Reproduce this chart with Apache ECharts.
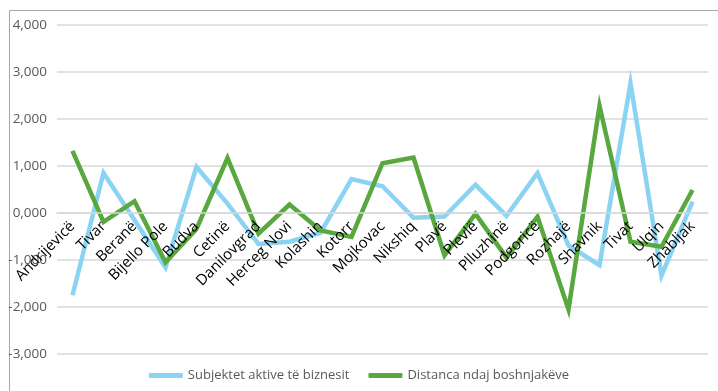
<!DOCTYPE html>
<html>
<head>
<meta charset="UTF-8">
<title>chart</title>
<script type="text/javascript" src="https://cdn.jsdelivr.net/npm/echarts@6/dist/echarts.min.js"></script>
<style>
  html, body { margin: 0; padding: 0; background: #fff; }
  #container { width: 718px; height: 391px; }
</style>
</head>
<body>
<div id="container"></div>
<script type="text/javascript">
    // kategorite (komunat)
    var categories = ['Andrijevicë', 'Tivar', 'Beranë', 'Bijello Pole', 'Budva', 'Cetinë', 'Danilovgrad',
        'Herceg Novi', 'Kolashin', 'Kotorr', 'Mojkovac', 'Nikshiq', 'Plavë', 'Plevlë', 'Plluzhinë',
        'Podgoricë', 'Rozhajë', 'Shavnik', 'Tivat', 'Ulqin', 'Zhabljak'];

    var subjektetAktive = [-1750, 850, -150, -1160, 980, 200, -660, -610, -420, 720, 570, -100, -75, 600,
        -60, 850, -690, -1110, 2760, -1330, 240];

    var distancaBoshnjakeve = [1320, -190, 250, -1050, -340, 1170, -440, 180, -370, -510, 1060, 1180, -900,
        -20, -950, -80, -2050, 2280, -610, -720, 490];

    var seriesNames = ['Subjektet aktive të biznesit', 'Distanca ndaj boshnjakëve'];

    var yMin = -3000, yMax = 4000, yStep = 1000;

    var font = '"Open Sans", "Noto Sans", sans-serif';

    var gridTop = 25, gridBottom = 37, chartH = 391;
    // ose x kalon ne vleren 0 te boshtit y
    var zeroOffset = -(chartH - gridTop - gridBottom) * (0 - yMin) / (yMax - yMin);

    var dom = document.getElementById('container');
    var myChart = echarts.init(dom);

    var option = {
        animation: false,
        textStyle: { fontFamily: font },
        graphic: [{
            type: 'rect',
            left: 7, top: 8,
            shape: { width: 730, height: 400 },
            style: { fill: 'none', stroke: '#a6a6a6', lineWidth: 1 },
            silent: true
        }],
        grid: { left: 57, right: 10, top: gridTop, bottom: gridBottom, containLabel: false, outerBoundsMode: 'none' },
        legend: {
            bottom: 4,
            left: 'center',
            icon: 'roundRect',
            itemWidth: 34,
            itemHeight: 5,
            itemGap: 19,
            textStyle: { color: '#595959', fontSize: 13, fontFamily: font },
            data: seriesNames
        },
        xAxis: {
            type: 'category',
            data: categories,
            boundaryGap: true,
            offset: zeroOffset,
            z: 10,
            axisLine: { show: true, onZero: false, lineStyle: { color: '#d9d9d9', width: 1.5 } },
            axisTick: { show: false },
            axisLabel: {
                rotate: 45,
                interval: 0,
                margin: 11,
                color: '#000',
                fontSize: 15,
                fontFamily: font
            }
        },
        yAxis: {
            type: 'value',
            min: yMin,
            max: yMax,
            interval: yStep,
            axisLine: { show: false },
            axisTick: { show: false },
            splitLine: { lineStyle: { color: '#d9d9d9', width: 1.5 } },
            axisLabel: {
                margin: 10,
                color: '#595959',
                fontSize: 13.5,
                fontFamily: font,
                formatter: function (v) {
                    if (v === 0) return '0,000';
                    var s = Math.abs(v).toString();
                    var t = s.slice(0, s.length - 3) + ',' + s.slice(s.length - 3);
                    return (v < 0 ? '-' : '') + t;
                }
            }
        },
        series: [
            {
                name: seriesNames[0],
                type: 'line',
                data: subjektetAktive,
                showSymbol: false,
                symbol: 'none',
                z: 2,
                lineStyle: { color: '#8ad3f3', width: 4.5, join: 'miter' },
                itemStyle: { color: '#8ad3f3' }
            },
            {
                name: seriesNames[1],
                type: 'line',
                data: distancaBoshnjakeve,
                showSymbol: false,
                symbol: 'none',
                z: 2,
                lineStyle: { color: '#59a73f', width: 4.5, join: 'miter' },
                itemStyle: { color: '#59a73f' }
            }
        ]
    };

    myChart.setOption(option);
</script>
</body>
</html>
